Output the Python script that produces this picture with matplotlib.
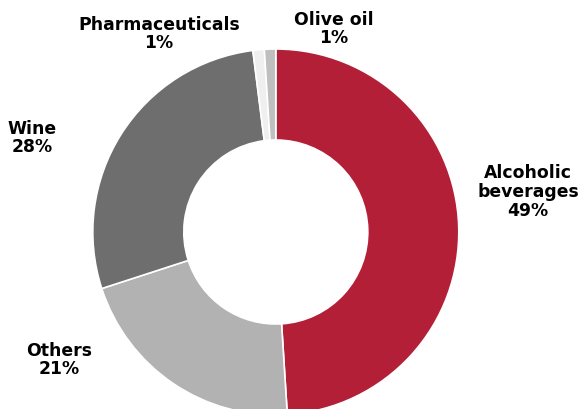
import matplotlib.pyplot as plt

categories = ["Alcoholic\nbeverages", "Others", "Wine", "Pharmaceuticals", "Olive oil"]
shares = [49, 21, 28, 1, 1]
colors = ["#B41F38", "#B2B2B2", "#6E6E6E", "#EFEFEF", "#BFBFBF"]

# label anchor points, figure pixels from top-left
label_xy = [(528, 192), (59, 360), (32, 138), (159, 34), (334, 29)]

W, H = 581, 409
fig = plt.figure(figsize=(W / 100, H / 100), dpi=100)
ax = fig.add_axes([0, 0, 1, 1])

ax.pie(shares, colors=colors, startangle=90, counterclock=False,
       center=(275.8, H - 232), radius=183, frame=True,
       wedgeprops=dict(width=91, edgecolor="white", linewidth=1.2))
ax.set_xlim(0, W)
ax.set_ylim(0, H)
ax.set_aspect("equal")
ax.axis("off")

for name, val, (x, y) in zip(categories, shares, label_xy):
    ax.text(x, H - y, f"{name}\n{val}%", ha="center", va="center",
            fontsize=12.4, fontweight="bold", family="DejaVu Sans",
            linespacing=1.05)

fig.savefig("out.png", dpi=100)
